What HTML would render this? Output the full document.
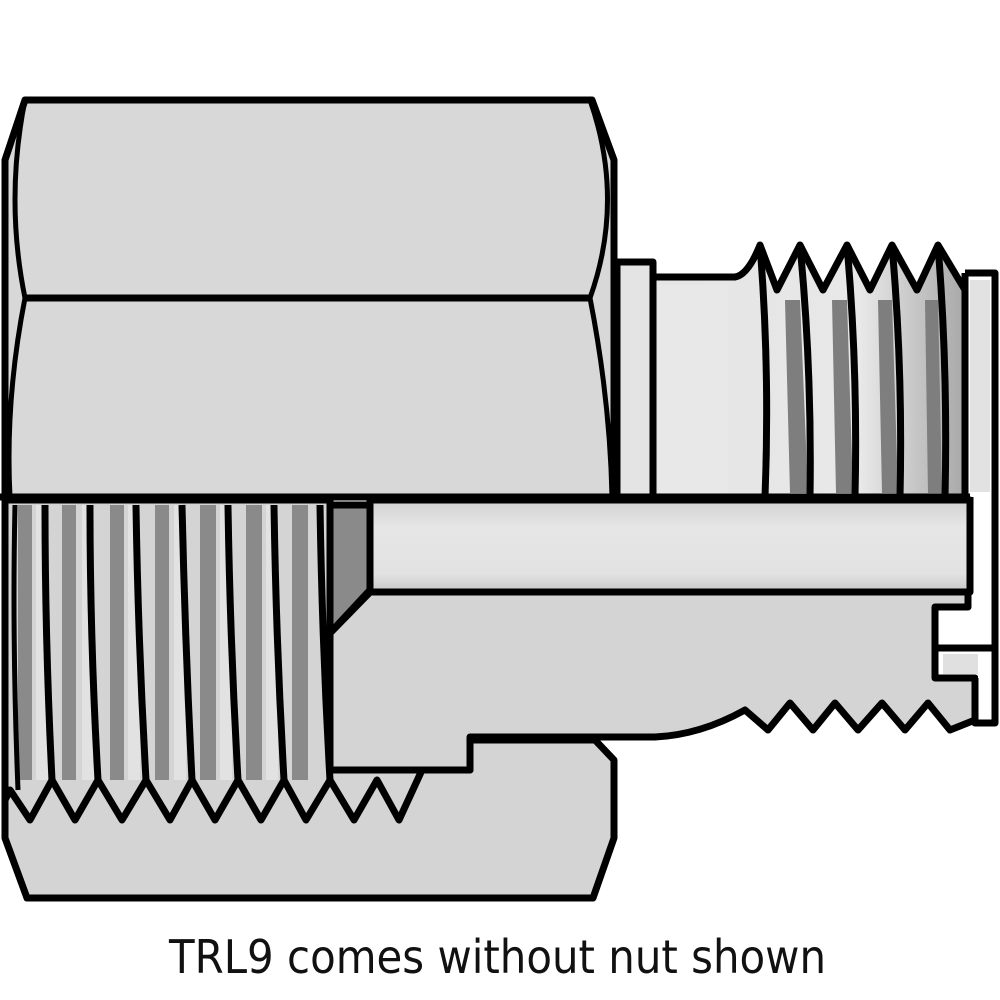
<!DOCTYPE html>
<html><head><meta charset="utf-8"><style>
html,body{margin:0;padding:0;background:#fff;width:1000px;height:1000px;overflow:hidden}
svg{display:block}
</style></head><body>
<svg width="1000" height="1000" viewBox="0 0 1000 1000" xmlns="http://www.w3.org/2000/svg">
<defs>
<linearGradient id="bore" x1="0" y1="0" x2="0" y2="1">
<stop offset="0" stop-color="#d2d2d2"/><stop offset="0.3" stop-color="#e6e6e6"/><stop offset="0.8" stop-color="#e2e2e2"/><stop offset="1" stop-color="#c8c8c8"/></linearGradient>
<linearGradient id="groove" x1="0" y1="0" x2="1" y2="0">
<stop offset="0" stop-color="#e4e4e4"/><stop offset="0.7" stop-color="#e8e8e8"/><stop offset="1" stop-color="#a8a8a8"/></linearGradient>
</defs>
<g stroke="#000" stroke-width="7" stroke-linejoin="round" fill="#d6d6d6">
<!-- nut upper -->
<path d="M5,160 L25,100 L592,100 L614,160 L614,497 L5,497 Z" fill="#d8d8d8"/>
<path d="M25,298 L590,298" fill="none"/>
<path d="M25,100 Q5,200 25,298 Q5,400 10,497" fill="none" stroke-width="5"/>
<path d="M590,100 Q625,200 590,298 Q610,400 612,497" fill="none" stroke-width="5"/>
<!-- nut lower -->
<path d="M5,500 L330,500 L330,770 L470,770 L470,740 L595,740 L614,760 L614,838 L593,898 L27,898 L5,838 Z" fill="#d4d4d4"/>
<!-- female threads -->
<g fill="#8a8a8a" stroke="none">
<rect x="18" y="505" width="14" height="275"/><rect x="62" y="505" width="14" height="275"/><rect x="110" y="505" width="14" height="275"/>
<rect x="155" y="505" width="14" height="275"/><rect x="200" y="505" width="16" height="275"/><rect x="246" y="505" width="16" height="275"/>
<rect x="292" y="505" width="16" height="275"/>
</g>
<g fill="#e2e2e2" stroke="none">
<rect x="36" y="505" width="12" height="275"/><rect x="82" y="505" width="12" height="275"/><rect x="128" y="505" width="12" height="275"/>
<rect x="174" y="505" width="12" height="275"/><rect x="220" y="505" width="12" height="275"/><rect x="266" y="505" width="12" height="275"/>
</g>
<path d="M5,800 L10,790 L30,820 L52,780 L75,820 L98,780 L122,820 L146,780 L170,820 L192,780 L215,820 L238,780 L261,820 L284,780 L306,820 L330,780 L354,820 L377,780 L399,820 L422,770" fill="none"/>
<path d="M52,780 Q45,640 45,505 M98,780 Q90,640 90,505 M146,780 Q138,640 136,505 M192,780 Q185,640 182,505 M238,780 Q230,640 228,505 M284,780 Q276,640 274,505 M330,780 Q322,640 320,505" fill="none"/>
<path d="M18,790 Q12,640 15,505" fill="none" stroke-width="5"/>
<!-- body -->
<path d="M370,500 L970,500 L970,592 L370,592 Z" fill="url(#bore)"/>
<path d="M330,505 L370,505 L370,590 L330,633 Z" fill="#8a8a8a"/>
<path d="M370,592 L968,592 L968,607 L935,607 L935,678 L975,678 L975,720 L950,730 L928,703 L905,730 L882,703 L858,730 L835,703 L813,730 L790,703 L768,730 L745,710 Q700,735 655,737 L470,737 L470,770 L330,770 L330,633 Z" fill="#d4d4d4"/>
<!-- cap -->
<rect x="943" y="654" width="47" height="20" fill="#e0e0e0" stroke="none"/>
<rect x="978" y="652" width="12" height="66" fill="#fff" stroke="none"/>
<path d="M975,678 L975,723 L995,723 L995,648 L935,648" fill="none"/>
<path d="M965,273 L995,273 L995,723" fill="none"/>
<path d="M970,592 L970,497 M965,273 L965,497" fill="none"/>
<rect x="970" y="280" width="20" height="212" fill="#e2e2e2" stroke="none"/>
<!-- upper male part -->
<path d="M617,262 L653,262 L653,277 L735,277 Q748,275 760,245 L777,290 L800,245 L823,290 L847,245 L870,290 L892,245 L917,290 L938,245 L965,290 L965,497 L617,497 Z" fill="url(#groove)"/>
<rect x="658" y="285" width="70" height="208" fill="#e8e8e8" stroke="none"/>
<g fill="#7e7e7e" stroke="none">
<path d="M785,300 L800,300 L808,493 L790,493 Z"/><path d="M832,300 L847,300 L853,493 L836,493 Z"/><path d="M878,300 L892,300 L898,493 L882,493 Z"/><path d="M925,300 L938,300 L942,493 L928,493 Z"/>
</g>
<path d="M653,262 L653,497 M760,245 Q770,370 765,497 M800,245 Q812,370 810,497 M847,245 Q858,370 855,497 M892,245 Q903,370 900,497 M938,245 Q948,370 945,497" fill="none"/>
<path d="M617,262 L617,497" fill="none"/>
<path d="M0,497 L970,497 M370,497 L370,592 L330,633" fill="none"/>
</g>
<text x="169" y="973" font-family="DejaVu Sans, Liberation Sans, sans-serif" font-size="46" textLength="657" lengthAdjust="spacingAndGlyphs" fill="#111">TRL9 comes without nut shown</text>
</svg>
</body></html>
